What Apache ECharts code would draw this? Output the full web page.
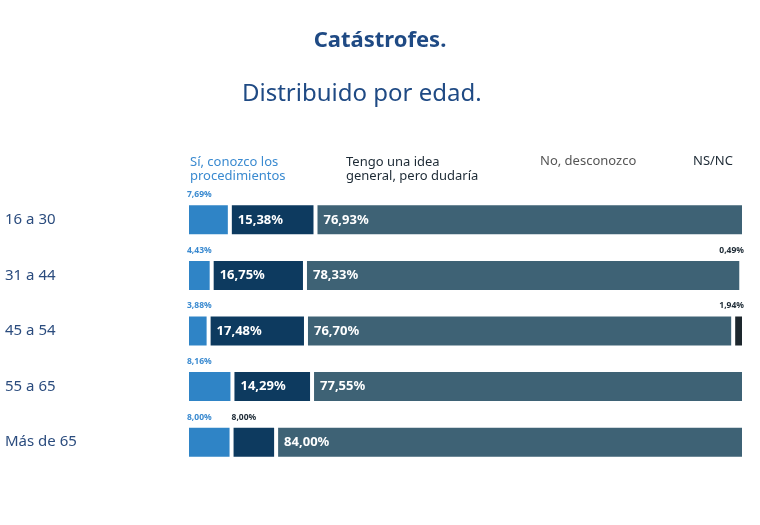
<!DOCTYPE html>
<html lang="es">
<head>
  <meta charset="UTF-8">
  <title>Catástrofes</title>
  <style>
    html, body, #chart { margin: 0; padding: 0; width: 100%; height: 100%; background: #fff; }
  </style>
</head>
<body>
<div id="chart"></div>
<script src="https://cdn.jsdelivr.net/npm/echarts@6/dist/echarts.min.js"></script>
<script>
  // datos
  var edades = ['16 a 30', '31 a 44', '45 a 54', '55 a 65', 'Más de 65'];
  var si = [7.69, 4.43, 3.88, 8.16, 8.00];
  var idea = [15.38, 16.75, 17.48, 14.29, 8.00];
  var no = [76.93, 78.33, 76.70, 77.55, 84.00];
  var nsnc = [0, 0.49, 1.94, 0, 0];
  var nombres = ['Sí, conozco los procedimientos', 'Tengo una idea general, pero dudaría', 'No, desconozco', 'NS/NC'];
  var colores = ['#2f84c6', '#0d3a5f', '#3e6275', '#1d272d'];
  var colorSmall = ['#3a8ad0', '#1d2a35', '#1d2a35', '#1d2a35'];

  var FONT = '"Noto Sans", "Open Sans", sans-serif';

  function fmt(v) { return v.toFixed(2).replace('.', ',') + '%'; }

  function buildData(vals, idx) {
    return vals.map(function (v) {
      if (v === 0) return { value: v, label: { show: false } };
      if (v >= 10) {
        return { value: v, label: { show: true, position: 'insideLeft', distance: 8,
          formatter: fmt(v), color: '#fff', fontWeight: 'bold', fontSize: 13, fontFamily: FONT } };
      }
      var right = idx === 3;
      return { value: v, label: { show: true, position: right ? ['100%', -13] : [0, -13],
        align: right ? 'right' : 'left', formatter: fmt(v), color: colorSmall[idx],
        fontWeight: 'bold', fontSize: 8.5, fontFamily: FONT } };
    });
  }

  var series = [si, idea, no, nsnc].map(function (vals, i) {
    return {
      name: nombres[i], type: 'bar', stack: 'total', barWidth: 33,
      itemStyle: { color: colores[i], borderColor: '#fff', borderWidth: 2 },
      data: buildData(vals, i)
    };
  });

  var chart = echarts.init(document.getElementById('chart'));
  chart.setOption({
    animation: false,
    grid: { left: 187, right: 16, top: 192, bottom: 55 },
    xAxis: { type: 'value', min: 0, max: 100, show: false },
    yAxis: {
      type: 'category', data: edades, inverse: true,
      axisLine: { show: false }, axisTick: { show: false },
      axisLabel: { align: 'left', margin: 182, color: '#2b4c7e', fontSize: 15, fontFamily: FONT }
    },
    graphic: [
      { type: 'text', left: 'center', top: 30, style: { text: 'Catástrofes.', fill: '#1f4a84', font: 'bold 22px ' + FONT } },
      { type: 'text', left: 242, top: 82, style: { text: 'Distribuido por edad.', fill: '#1f4a84', font: '24px ' + FONT } },
      { type: 'text', left: 190, top: 155, style: { text: 'Sí, conozco los\nprocedimientos', fill: '#3a8ad0', font: '13px ' + FONT, lineHeight: 14 } },
      { type: 'text', left: 346, top: 155, style: { text: 'Tengo una idea\ngeneral, pero dudaría', fill: '#1d2a35', font: '13px ' + FONT, lineHeight: 14 } },
      { type: 'text', left: 540, top: 155, style: { text: 'No, desconozco', fill: '#555', font: '13px ' + FONT } },
      { type: 'text', left: 693, top: 155, style: { text: 'NS/NC', fill: '#1d2a35', font: '13px ' + FONT } }
    ],
    series: series
  });
</script>
</body>
</html>
